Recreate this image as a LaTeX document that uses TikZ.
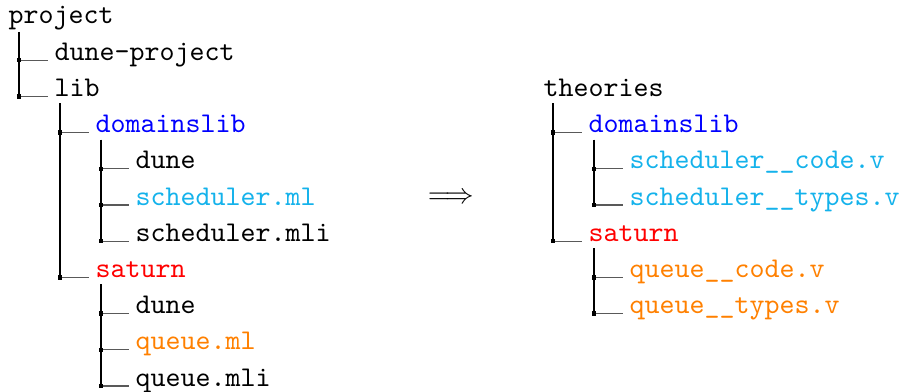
\documentclass[tikz,border=0pt]{standalone}
\usepackage{xcolor}
\definecolor{dirblue}{RGB}{0,0,255}
\definecolor{mlcyan}{RGB}{20,178,235}
\definecolor{mlorange}{RGB}{255,128,0}
\definecolor{dirred}{RGB}{255,0,0}
\begin{document}
\begin{tikzpicture}[x=0.35pt,y=-0.35pt,
  item/.style={anchor=base west,inner sep=0pt,font=\ttfamily},
  vline/.style={line width=0.45pt,black},
  hline/.style={line width=0.45pt,black!65,shorten >=2.1pt},
  knotfill/.style={fill=black}]
\useasboundingbox (0,0) rectangle (903,391);

% ---------- left tree ----------
\node[item] (project) at (8,24) {project};
\node[item] (duneproject) at (54,60.2) {dune-project};
\node[item] (lib) at (54,96.4) {lib};
\node[item,text=dirblue] (domainslib) at (95,132.6) {domainslib};
\node[item] (dune1) at (135,168.8) {dune};
\node[item,text=mlcyan] (schedml) at (135,205) {scheduler.ml};
\node[item] (schedmli) at (135,241.2) {scheduler.mli};
\node[item,text=dirred] (saturn) at (95,277.4) {saturn};
\node[item] (dune2) at (135,313.6) {dune};
\node[item,text=mlorange] (queueml) at (135,349.8) {queue.ml};
\node[item] (queuemli) at (135,386) {queue.mli};

\coordinate (k1) at (19,60.2);
\coordinate (k2) at (19,96.4);
\coordinate (k3) at (60,132.6);
\coordinate (k4) at (101,168.8);
\coordinate (k5) at (101,205);
\coordinate (k6) at (101,241.2);
\coordinate (k7) at (60,277.4);
\coordinate (k8) at (101,313.6);
\coordinate (k9) at (101,349.8);
\coordinate (k10) at (101,386);

\draw[vline] (project.base west -| k1) ++(0,8) -- (k2);
\draw[vline] (lib.base west -| k3) ++(0,7) -- (k7);
\draw[vline] (domainslib.base west -| k4) ++(0,7) -- (k6);
\draw[vline] (saturn.base west -| k8) ++(0,7) -- (k10);

\draw[hline] (k1) -- (duneproject.base west);
\draw[hline] (k2) -- (lib.base west);
\draw[hline] (k3) -- (domainslib.base west);
\draw[hline] (k4) -- (dune1.base west);
\draw[hline] (k5) -- (schedml.base west);
\draw[hline] (k6) -- (schedmli.base west);
\draw[hline] (k7) -- (saturn.base west);
\draw[hline] (k8) -- (dune2.base west);
\draw[hline] (k9) -- (queueml.base west);
\draw[hline] (k10) -- (queuemli.base west);

% ---------- arrow ----------
\node[inner sep=0pt] (implies) at (451,198) {$\Longrightarrow$};

% ---------- right tree ----------
\node[item] (theories) at (543,96.4) {theories};
\node[item,text=dirblue] (tdomainslib) at (588,132.6) {domainslib};
\node[item,text=mlcyan] (schedcode) at (629,168.8) {scheduler\_\_code.v};
\node[item,text=mlcyan] (schedtypes) at (629,205) {scheduler\_\_types.v};
\node[item,text=dirred] (tsaturn) at (588,241.2) {saturn};
\node[item,text=mlorange] (queuecode) at (629,277.4) {queue\_\_code.v};
\node[item,text=mlorange] (queuetypes) at (629,313.6) {queue\_\_types.v};

\coordinate (m1) at (553,132.6);
\coordinate (m2) at (594,168.8);
\coordinate (m3) at (594,205);
\coordinate (m4) at (553,241.2);
\coordinate (m5) at (594,277.4);
\coordinate (m6) at (594,313.6);

\draw[vline] (theories.base west -| m1) ++(0,7) -- (m4);
\draw[vline] (tdomainslib.base west -| m2) ++(0,7) -- (m3);
\draw[vline] (tsaturn.base west -| m5) ++(0,7) -- (m6);

\draw[hline] (m1) -- (tdomainslib.base west);
\draw[hline] (m2) -- (schedcode.base west);
\draw[hline] (m3) -- (schedtypes.base west);
\draw[hline] (m4) -- (tsaturn.base west);
\draw[hline] (m5) -- (queuecode.base west);
\draw[hline] (m6) -- (queuetypes.base west);

% ---------- knots ----------
\foreach \k in {k1,k2,k3,k4,k5,k6,k7,k8,k9,k10,m1,m2,m3,m4,m5,m6}
  \fill[knotfill] (\k) +(-0.8pt,-0.8pt) rectangle +(0.8pt,0.8pt);
\end{tikzpicture}
\end{document}
